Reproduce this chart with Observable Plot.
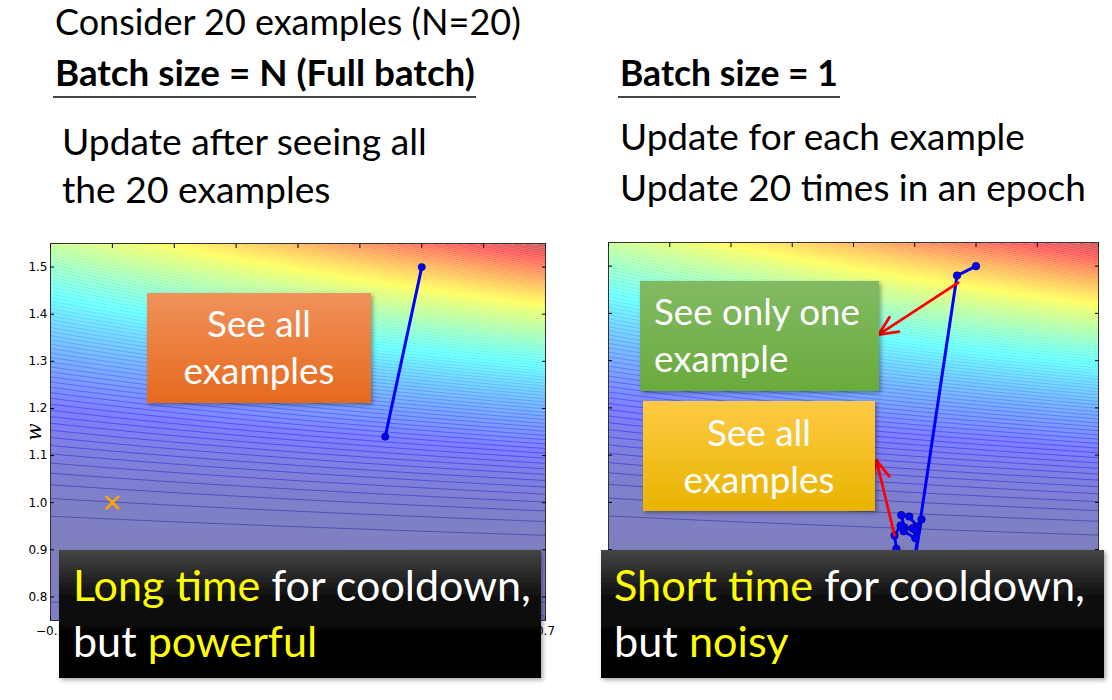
<!DOCTYPE html>
<html>
<head>
<meta charset="utf-8">
<script src="https://cdn.jsdelivr.net/npm/d3@7"></script>
<script src="https://cdn.jsdelivr.net/npm/@observablehq/plot@0.6"></script>
<style>
  html, body { margin: 0; padding: 0; background: #fff; }
  #page { position: relative; width: 1112px; height: 700px; overflow: hidden; background: #fff; }
  .plotbox { position: absolute; top: 230px; }
  #overlay { position: absolute; left: 0; top: 0; }
  [aria-label="y-axis label"] text { font-family: "DejaVu Serif", serif; font-style: italic; font-size: 20px; }
</style>
</head>
<body>
<div id="page">
  <div id="left" class="plotbox" style="left:0px"></div>
  <div id="right" class="plotbox" style="left:560px"></div>
  <svg id="overlay" width="1112" height="700"></svg>
</div>
<script>
// ---------- data ----------
const bDomain = [-0.1, 0.7];
const wDomain = [0.75, 1.55];
const bTicks = [-0.1, 0.0, 0.1, 0.2, 0.3, 0.4, 0.5, 0.6, 0.7];
const bTickLabelsShown = [-0.1, 0.7];   // the rest are hidden behind the caption box
const wTicks = [0.8, 0.9, 1.0, 1.1, 1.2, 1.3, 1.4, 1.5];

// full-batch path (b, w)
const fullB = [0.500, 0.441];
const fullW = [1.500, 1.140];

// batch-size-1 path (b, w)
const sgdB = [0.500, 0.469, 0.395, 0.411, 0.404, 0.391, 0.378, 0.383, 0.396, 0.401, 0.401, 0.382, 0.377, 0.367, 0.370];
const sgdW = [1.500, 1.480, 0.840, 0.964, 0.949, 0.970, 0.973, 0.947, 0.945, 0.941, 0.924, 0.939, 0.951, 0.930, 0.902];

// target marker
const targetB = [0.0];
const targetW = [1.0];

// red arrows: start -> end
const arrowFromB = [0.471, 0.367];
const arrowFromW = [1.465, 0.930];
const arrowToB = [0.341, 0.3375];
const arrowToW = [1.355, 1.089];

// loss surface coefficients (left edge, right edge)
const lossCurvature = [1.2, 2.0];
const lossCenter = [0.88, 0.86];

// ---------- helpers ----------
function loss(b, w) {
  const t = (b - bDomain[0]) / (bDomain[1] - bDomain[0]);
  const a = lossCurvature[0] + (lossCurvature[1] - lossCurvature[0]) * t;
  const m = lossCenter[0] + (lossCenter[1] - lossCenter[0]) * t;
  return a * (w - m) ** 2;
}
function jet(t) {
  const c = v => Math.round(255 * Math.max(0, Math.min(1, v)));
  return `rgb(${c(1.5 - Math.abs(4 * t - 3))},${c(1.5 - Math.abs(4 * t - 2))},${c(1.5 - Math.abs(4 * t - 1))})`;
}
const fullPath = fullB.map((b, i) => ({b, w: fullW[i]}));
const sgdPath = sgdB.map((b, i) => ({b, w: sgdW[i]}));
const target = targetB.map((b, i) => ({b, w: targetW[i]}));
const arrows = arrowFromB.map((b, i) => ({b1: b, w1: arrowFromW[i], b2: arrowToB[i], w2: arrowToW[i]}));
const fmt = d3.format(".1f");

function surfacePlot({labels, marginLeft, marginRight, marginTop, width, extra}) {
  const ext = {x1: bDomain[0], x2: bDomain[1], y1: wDomain[0], y2: wDomain[1]};
  return Plot.plot({
    width, height: 420, marginLeft, marginRight, marginTop, marginBottom: 30,
    x: {domain: bDomain},
    y: {domain: wDomain},
    color: {type: "linear", domain: [0, 1], interpolate: jet, clamp: true},
    style: {fontFamily: "DejaVu Sans, sans-serif", fontSize: "12px", background: "transparent", overflow: "visible", color: "#000"},
    marks: [
      Plot.raster({...ext, fill: loss, pixelSize: 1, opacity: 0.5}),
      Plot.contour({...ext, value: loss, thresholds: 90, stroke: "value", fill: "none", strokeWidth: 0.7, strokeOpacity: 0.55}),
      Plot.frame({stroke: "#333", strokeWidth: 1}),
      Plot.axisY({ticks: wTicks, tickSize: -4, tickPadding: 7,
        tickFormat: labels ? fmt : () => "",
        label: labels ? "w" : null, labelAnchor: "center", labelArrow: "none", labelOffset: 24}),
      Plot.axisY({anchor: "right", ticks: wTicks, tickSize: -4, tickFormat: () => "", label: null}),
      Plot.axisX({ticks: bTicks, tickSize: -4, tickPadding: 10,
        tickFormat: labels ? (d => bTickLabelsShown.some(v => Math.abs(v - d) < 1e-9) ? fmt(d) : "") : () => "", label: null}),
      Plot.axisX({anchor: "top", ticks: bTicks, tickSize: -4, tickFormat: () => "", label: null}),
      ...extra
    ]
  });
}

const leftPlot = surfacePlot({
  labels: true, width: 560, marginLeft: 50, marginRight: 15, marginTop: 13,
  extra: [
    Plot.dot(target, {x: "b", y: "w", symbol: "times", r: 6, stroke: "#ffa500", strokeWidth: 2.5}),
    Plot.line(fullPath, {x: "b", y: "w", stroke: "#0000ff", strokeWidth: 3}),
    Plot.dot(fullPath, {x: "b", y: "w", r: 3.6, fill: "#0000ff", stroke: "#000060", strokeWidth: 0.6})
  ]
});
const rightPlot = surfacePlot({
  labels: false, width: 552, marginLeft: 48, marginRight: 14, marginTop: 12,
  extra: [
    Plot.line(sgdPath, {x: "b", y: "w", stroke: "#0000ff", strokeWidth: 3}),
    Plot.dot(sgdPath, {x: "b", y: "w", r: 3.8, fill: "#0000ff", stroke: "#000060", strokeWidth: 0.6}),
    Plot.arrow(arrows, {x1: "b1", y1: "w1", x2: "b2", y2: "w2", stroke: "#ff0000", strokeWidth: 2.8, headLength: 11, headAngle: 50})
  ]
});
document.getElementById("left").append(leftPlot);
document.getElementById("right").append(rightPlot);

// ---------- overlay: slide text & callout boxes ----------
const svg = d3.select("#overlay");
const defs = svg.append("defs");
function grad(id, c1, c2) {
  const g = defs.append("linearGradient").attr("id", id).attr("x1", 0).attr("y1", 0).attr("x2", 0).attr("y2", 1);
  g.append("stop").attr("offset", "0%").attr("stop-color", c1);
  g.append("stop").attr("offset", "100%").attr("stop-color", c2);
}
grad("gOrange", "#f0925c", "#e6691d");
grad("gGreen", "#82ba64", "#6aab3c");
grad("gYellow", "#ffca45", "#e8b400");
const gb = defs.append("linearGradient").attr("id", "gBlack").attr("x1", 0).attr("y1", 0).attr("x2", 0).attr("y2", 1);
gb.append("stop").attr("offset", "0%").attr("stop-color", "#454545");
gb.append("stop").attr("offset", "40%").attr("stop-color", "#0a0a0a");
gb.append("stop").attr("offset", "100%").attr("stop-color", "#000");
defs.append("filter").attr("id", "shadow").attr("x", "-10%").attr("y", "-10%").attr("width", "130%").attr("height", "130%")
  .append("feDropShadow").attr("dx", 2).attr("dy", 2).attr("stdDeviation", 2).attr("flood-opacity", 0.35);

const FONT = "Lato, 'Open Sans', sans-serif";
function box(x, y, w, h, fill) {
  svg.append("rect").attr("x", x).attr("y", y).attr("width", w).attr("height", h)
    .attr("fill", `url(#${fill})`).attr("filter", "url(#shadow)");
}
// lines: strings or arrays of [text, color]; font size fitted so the first line has width targetW
function textBlock({x, y, lh, targetW, anchor = "start", bold = false, lines, color = "#000"}) {
  const t = svg.append("text").attr("font-family", FONT).attr("font-size", 32)
    .attr("font-weight", bold ? 700 : 400).attr("text-anchor", anchor).attr("fill", color)
    .style("white-space", "pre");
  lines.forEach((ln, i) => {
    const segs = typeof ln === "string" ? [[ln, color]] : ln;
    segs.forEach(([s, c], j) => {
      const ts = t.append("tspan").text(s).attr("fill", c);
      if (j === 0) ts.attr("x", x).attr("y", y + i * lh);
    });
  });
  const tmp = svg.append("text").attr("font-family", FONT).attr("font-size", 32).attr("font-weight", bold ? 700 : 400)
    .style("white-space", "pre")
    .text(typeof lines[0] === "string" ? lines[0] : lines[0].map(d => d[0]).join(""));
  const len = tmp.node().getComputedTextLength();
  tmp.remove();
  t.attr("font-size", 32 * targetW / len);
  return t;
}

// headings
textBlock({x: 55, y: 35, lh: 0, targetW: 466, lines: ["Consider 20 examples (N=20)"]});
textBlock({x: 55, y: 86, lh: 0, targetW: 420, bold: true, lines: ["Batch size = N (Full batch)"]});
svg.append("line").attr("x1", 53).attr("x2", 476).attr("y1", 97).attr("y2", 97).attr("stroke", "#444").attr("stroke-width", 2);
textBlock({x: 62, y: 155, lh: 48, targetW: 365, lines: ["Update after seeing all", "the 20 examples"]});
textBlock({x: 620, y: 86, lh: 0, targetW: 218, bold: true, lines: ["Batch size = 1"]});
svg.append("line").attr("x1", 618).attr("x2", 840).attr("y1", 97).attr("y2", 97).attr("stroke", "#444").attr("stroke-width", 2);
textBlock({x: 620, y: 150, lh: 51, targetW: 405, lines: ["Update for each example", "Update 20 times in an epoch"]});

// callouts
box(147, 293, 224, 110, "gOrange");
textBlock({x: 259, y: 337, lh: 47, targetW: 104, anchor: "middle", color: "#fff", lines: ["See all", "examples"]});

box(640, 281, 239, 110, "gGreen");
textBlock({x: 654, y: 325, lh: 47, targetW: 206, color: "#fff", lines: ["See only one", "example"]});

box(643, 401, 232, 110, "gYellow");
textBlock({x: 759, y: 446, lh: 47, targetW: 104, anchor: "middle", color: "#fff", lines: ["See all", "examples"]});

box(59, 550, 482, 128, "gBlack");
textBlock({x: 73, y: 601, lh: 56, targetW: 458, color: "#fff",
  lines: [[["Long time", "#ffff00"], [" for cooldown,", "#fff"]], [["but ", "#fff"], ["powerful", "#ffff00"]]]});
box(601, 550, 503, 128, "gBlack");
textBlock({x: 614, y: 601, lh: 56, targetW: 471, color: "#fff",
  lines: [[["Short time", "#ffff00"], [" for cooldown,", "#fff"]], [["but ", "#fff"], ["noisy", "#ffff00"]]]});
</script>
</body>
</html>
